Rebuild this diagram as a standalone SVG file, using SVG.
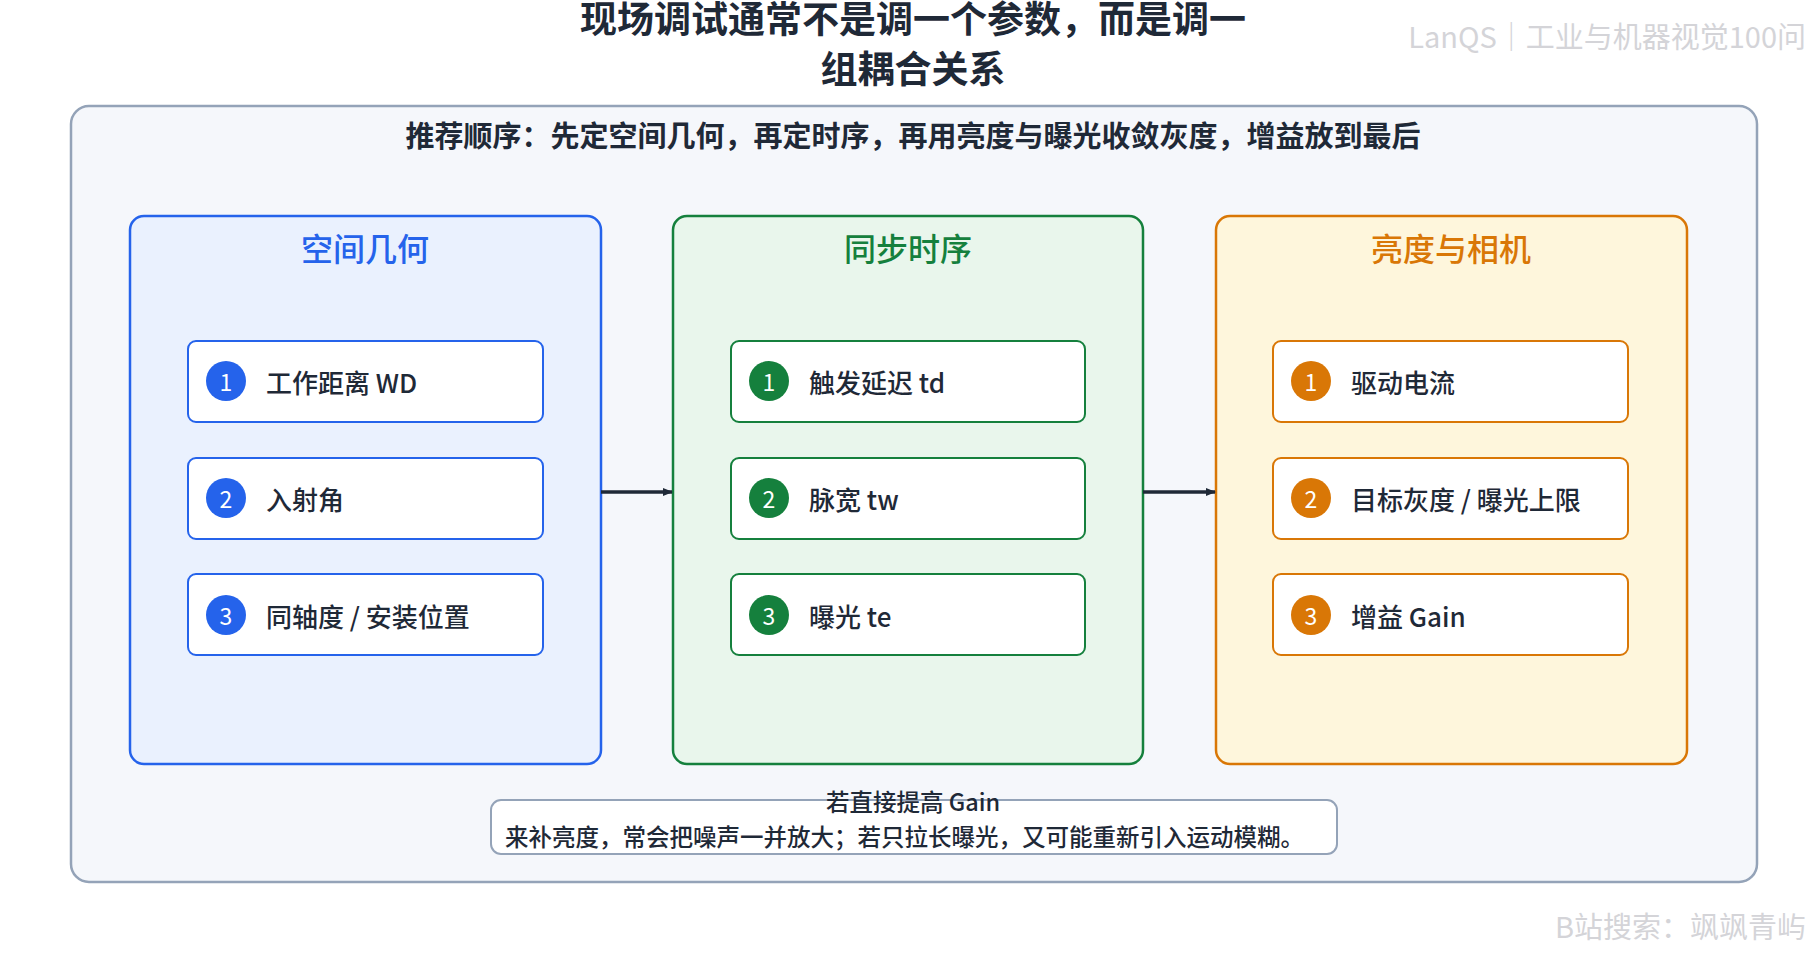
<svg xmlns="http://www.w3.org/2000/svg" width="1820" height="960" viewBox="0 0 1820 960">
<defs>
<style>
text{font-family:"Noto Sans CJK SC","Noto Sans",sans-serif}
.t{font-size:37px;font-weight:bold;fill:#1f2937;text-anchor:middle}
.wm{font-size:29px;fill:#d4d4d8;text-anchor:end}
.sub{font-size:29px;font-weight:bold;fill:#1f2937;text-anchor:middle}
.ct{font-size:32px;font-weight:500;text-anchor:middle}
.it{fill:#fff;stroke-width:2}
.lb{font-size:26px;font-weight:500;fill:#1f2937;dominant-baseline:central}
.n{font-size:23px;fill:#fff;text-anchor:middle;dominant-baseline:central}
.note{font-size:23.5px;font-weight:500;fill:#1f2937}
</style>
<marker id="ah" markerWidth="10" markerHeight="10" refX="9" refY="5" orient="auto" markerUnits="userSpaceOnUse"><path d="M0,1 L10,5 L0,9 Z" fill="#1f2937"/></marker>
</defs>
<rect width="1820" height="960" fill="#fff"/>
<text class="t" x="913" y="33">现场调试通常不是调一个参数，而是调一</text>
<text class="t" x="913" y="83">组耦合关系</text>
<text class="wm" x="1806" y="48">LanQS｜工业与机器视觉100问</text>
<g id="outer"><rect x="71" y="106" width="1686" height="776" rx="18" fill="#f5f7fb" stroke="#94a3b8" stroke-width="2.5"/>
<text class="sub" x="913" y="147">推荐顺序：先定空间几何，再定时序，再用亮度与曝光收敛灰度，增益放到最后</text></g>
<g id="col1"><rect x="130" y="216" width="471" height="548" rx="14" fill="#eaf1fe" stroke="#2563eb" stroke-width="2.5"/><text class="ct" x="365" y="261" fill="#2563eb">空间几何</text></g>
<g id="col2"><rect x="673" y="216" width="470" height="548" rx="14" fill="#e9f6ec" stroke="#15803d" stroke-width="2.5"/><text class="ct" x="908" y="261" fill="#15803d">同步时序</text></g>
<g id="col3"><rect x="1216" y="216" width="471" height="548" rx="14" fill="#fef6dc" stroke="#d97706" stroke-width="2.5"/><text class="ct" x="1451" y="261" fill="#d97706">亮度与相机</text></g>
<g id="a1"><rect class="it" x="188" y="341" width="355" height="81" rx="8" stroke="#2563eb"/><circle cx="226" cy="381" r="20" fill="#2563eb"/><text class="n" x="226" y="381">1</text><text class="lb" x="266" y="381">工作距离 WD</text></g>
<g id="a2"><rect class="it" x="188" y="458" width="355" height="81" rx="8" stroke="#2563eb"/><circle cx="226" cy="498" r="20" fill="#2563eb"/><text class="n" x="226" y="498">2</text><text class="lb" x="266" y="498">入射角</text></g>
<g id="a3"><rect class="it" x="188" y="574" width="355" height="81" rx="8" stroke="#2563eb"/><circle cx="226" cy="615" r="20" fill="#2563eb"/><text class="n" x="226" y="615">3</text><text class="lb" x="266" y="615">同轴度 / 安装位置</text></g>
<g id="b1"><rect class="it" x="731" y="341" width="354" height="81" rx="8" stroke="#15803d"/><circle cx="769" cy="381" r="20" fill="#15803d"/><text class="n" x="769" y="381">1</text><text class="lb" x="809" y="381">触发延迟 td</text></g>
<g id="b2"><rect class="it" x="731" y="458" width="354" height="81" rx="8" stroke="#15803d"/><circle cx="769" cy="498" r="20" fill="#15803d"/><text class="n" x="769" y="498">2</text><text class="lb" x="809" y="498">脉宽 tw</text></g>
<g id="b3"><rect class="it" x="731" y="574" width="354" height="81" rx="8" stroke="#15803d"/><circle cx="769" cy="615" r="20" fill="#15803d"/><text class="n" x="769" y="615">3</text><text class="lb" x="809" y="615">曝光 te</text></g>
<g id="c1"><rect class="it" x="1273" y="341" width="355" height="81" rx="8" stroke="#d97706"/><circle cx="1311" cy="381" r="20" fill="#d97706"/><text class="n" x="1311" y="381">1</text><text class="lb" x="1351" y="381">驱动电流</text></g>
<g id="c2"><rect class="it" x="1273" y="458" width="355" height="81" rx="8" stroke="#d97706"/><circle cx="1311" cy="498" r="20" fill="#d97706"/><text class="n" x="1311" y="498">2</text><text class="lb" x="1351" y="498">目标灰度 / 曝光上限</text></g>
<g id="c3"><rect class="it" x="1273" y="574" width="355" height="81" rx="8" stroke="#d97706"/><circle cx="1311" cy="615" r="20" fill="#d97706"/><text class="n" x="1311" y="615">3</text><text class="lb" x="1351" y="615">增益 Gain</text></g>
<g id="connectors" stroke="#1f2937" stroke-width="3.5" fill="none">
<line x1="601" y1="492" x2="672" y2="492" marker-end="url(#ah)"/>
<line x1="1143" y1="492" x2="1215" y2="492" marker-end="url(#ah)"/>
</g>
<g id="note"><rect x="491" y="800" width="846" height="54" rx="10" fill="#fff" stroke="#94a3b8" stroke-width="2"/>
<text class="note" x="913" y="811" text-anchor="middle">若直接提高 Gain</text>
<text class="note" x="505" y="846">来补亮度，常会把噪声一并放大；若只拉长曝光，又可能重新引入运动模糊。</text></g>
<text class="wm" x="1806" y="938">B站搜索：飒飒青屿</text>
</svg>
